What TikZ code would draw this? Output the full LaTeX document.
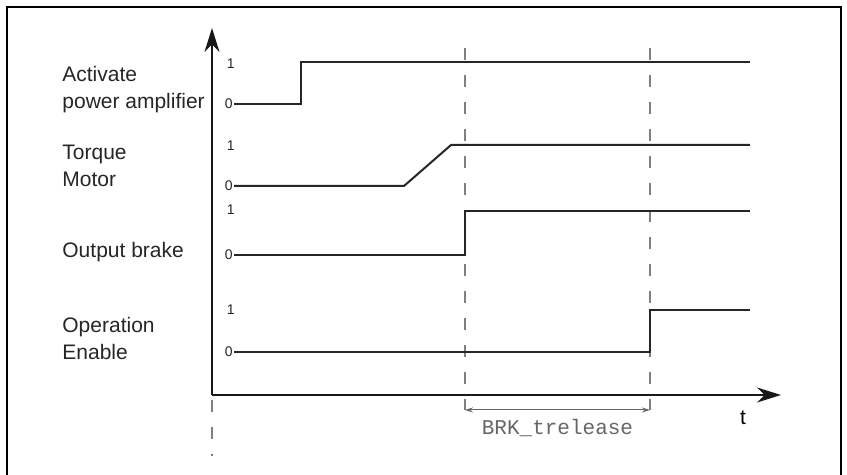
\documentclass[tikz,border=0pt]{standalone}
\usepackage{fontspec}
\setmainfont{Liberation Sans}
\setmonofont{Liberation Mono}
\usetikzlibrary{arrows.meta,positioning,calc}

\begin{document}
\begin{tikzpicture}[x=0.5pt, y=-0.5pt,
  sig/.style={line width=1pt, black!85, line join=miter},
  axis/.style={line width=1pt, black!90, -{Stealth[length=12pt, width=7.5pt]}},
  guide/.style={gray, line width=0.6pt, dash pattern=on 6pt off 7.5pt},
  lvl/.style={font=\fontsize{7}{8}\selectfont, inner sep=0.5pt, anchor=east, black!85},
  signame/.style={font=\fontsize{10.5}{13.5}\selectfont, align=left, anchor=west, inner sep=0pt, black!85}]
  \useasboundingbox (0,0) rectangle (847,475);
  % Frame
  \draw[line width=0.8pt] (7,480) -- (7,7) -- (841,7) -- (841,480);

  % Axes
  \coordinate (o) at (212,395);
  \coordinate (ytip) at (212,28);
  \coordinate (xtip) at (781,395);
  \draw[axis] (o) -- (ytip);
  \draw[axis] (o) -- (xtip);
  \draw[guide] (212,400) -- (212,456);
  \node[font=\fontsize{10.5}{12}\selectfont] (tl) at (743,418) {t};

  % Signal names
  \node[signame] (nA) at (62,90) {Activate\\power amplifier};
  \node[signame] (nT) at (62,166) {Torque\\Motor};
  \node[signame] (nB) at (62,252) {Output brake};
  \node[signame] (nE) at (62,338) {Operation\\Enable};

  % Levels
  \node[lvl] (a1) at (236,64) {1};
  \node[lvl] (a0) at (234,104) {0};
  \node[lvl] (t1) at (236,146) {1};
  \node[lvl] (t0) at (234,186) {0};
  \node[lvl] (b1) at (236,210) {1};
  \node[lvl] (b0) at (234,255) {0};
  \node[lvl] (e1) at (236,310) {1};
  \node[lvl] (e0) at (234,352) {0};

  % Guides
  \coordinate (g1) at (465,410);
  \coordinate (g2) at (650,410);
  \draw[guide] (465,48) -- (g1);
  \draw[guide] (650,48) -- (g2);

  % Signals
  \draw[sig] (a0.east) -- (301,104) |- (750,62);
  \draw[sig] (t0.east) -- (404,186) -- (451,145) -- (750,145);
  \draw[sig] (b0.east) -- (465,255) |- (750,211);
  \draw[sig] (e0.east) -- (650,352) |- (750,310);

  % Release time
  \draw[gray!80!black, line width=0.5pt, {Stealth[length=4pt, width=2.5pt]}-{Stealth[length=4pt, width=2.5pt]}] (g1) -- (g2);
  \node[font=\fontsize{10.5}{12}\ttfamily, text=gray!80!black, below=1pt of $(g1)!0.5!(g2)$] (brk) {BRK\_trelease};
\end{tikzpicture}
\end{document}
